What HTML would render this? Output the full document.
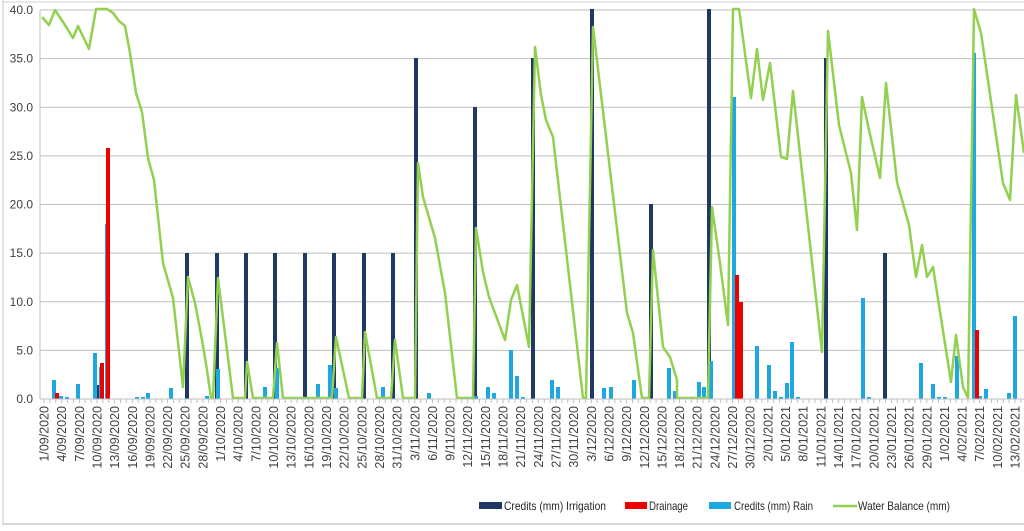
<!DOCTYPE html>
<html><head><meta charset="utf-8"><style>
html,body{margin:0;padding:0;background:#fff;}
svg{display:block;font-family:"Liberation Sans",sans-serif;}
</style></head><body>
<svg id="c" width="1024" height="531" viewBox="0 0 1024 531" xmlns="http://www.w3.org/2000/svg">
<line x1="3" y1="0" x2="3" y2="525" stroke="#c8c8c8"/>
<line x1="3" y1="2" x2="1024" y2="2" stroke="#d0d0d0"/>
<line x1="3" y1="524" x2="1024" y2="524" stroke="#b0b0b0"/>
<g id="grid" stroke="#bfbfbf" stroke-width="1"></g>
<g id="ylab" fill="#404040" font-size="12" text-anchor="end"></g>
<g id="bars"></g>
<polyline fill="none" stroke="#92d050" stroke-width="2.5" stroke-linejoin="round" points="42,17 49,25 55,10 63,22 73,38 78,26 89,49 96,9 107,9 113,13 119,21 125,26 130,53 136,93 142,112 148,158 154,180 163,263 173,298 183,387 188,277 195,303 202,340 207,370 211,398 213,398 218,278 233,398 245,398 247,362 253,398 273,398 277,343 283,398 332,398 336,337 349,398 362,398 365,332 377,398 391,398 395,340 403,398 415,398 418,163 423,197 435,238 445,293 457,398 473,398 476,228 483,272 489,297 505,340 511,300 517,285 529,347 535,47 541,95 546,120 553,137 583,398 586,398 593,27 612,187 627,313 633,333 642,398 649,398 653,250 663,347 670,357 677,380 677,398 708,398 712,207 720,263 728,325 733,9 739,9 751,98 757,49 763,100 770,63 781,157 787,159 793,91 822,352 828,31 839,125 851,173 857,230 862,97 869,130 880,178 886,83 897,182 909,225 916,277 922,245 927,277 933,267 951,382 956,335 963,387 968,398 974,9 981,33 1003,183 1010,200 1016,95 1024,153"/>
<line x1="40" y1="399" x2="1024" y2="399" stroke="#bfbfbf"/>
<g id="ticks" stroke="#bfbfbf"></g>
<g id="xlab" fill="#404040" font-size="12.5"></g>
<g font-size="12" fill="#262626" lengthAdjust="spacingAndGlyphs">
<rect x="479" y="502" width="23" height="7" fill="#1f3864"/><text x="504" y="510" textLength="102" lengthAdjust="spacingAndGlyphs">Credits (mm) Irrigation</text>
<rect x="625" y="502" width="22" height="7" fill="#ee0000"/><text x="649" y="510" textLength="39" lengthAdjust="spacingAndGlyphs">Drainage</text>
<rect x="709" y="502" width="22" height="7" fill="#1ea7e1"/><text x="734" y="510" textLength="79" lengthAdjust="spacingAndGlyphs">Credits (mm) Rain</text>
<line x1="833" y1="506" x2="857" y2="506" stroke="#92d050" stroke-width="2.5"/><text x="858" y="510" textLength="92" lengthAdjust="spacingAndGlyphs">Water Balance (mm)</text>
</g>
</svg>
<script>
var NS="http://www.w3.org/2000/svg";
function el(p,t,a,txt){var e=document.createElementNS(NS,t);for(var k in a)e.setAttribute(k,a[k]);if(txt!=null)e.textContent=txt;document.getElementById(p).appendChild(e);return e;}
for(var i=0;i<=8;i++){var y=10+i*48.625;if(i<8)el("grid","line",{x1:40,y1:y,x2:1024,y2:y});el("ylab","text",{x:33,y:y+4},(40-5*i).toFixed(1));}
el("grid","line",{x1:40,y1:10,x2:40,y2:399});
var d=5.885;
for(var i=0;i<=166;i++){var x=44+i*d;el("ticks","line",{x1:x,y1:399,x2:x,y2:403});}
for(var k=0;k<=55;k++){var dt=new Date(2020,8,1+3*k);var s=dt.getDate()+"/"+("0"+(dt.getMonth()+1)).slice(-2)+"/"+dt.getFullYear();var x=44+3*k*d+4.5;el("xlab","text",{x:x,y:406,transform:"rotate(-90 "+x+" 406)","text-anchor":"end"},s);}
function bar(x,top,c){el("bars","rect",{x:x-2,y:top,width:4,height:399-top,fill:c});}
var dk="#1f3864",rd="#ee0000",bl="#1ea7e1";
[[187,253],[217,253],[246,253],[275,253],[305,253],[334,253],[364,253],[393,253],[416,58],[475,107],[533,58],[592,9],[651,204],[709,9],[826,58],[885,253],[98,385]].forEach(function(b){bar(b[0],b[1],dk);});
[[54,380],[61,396],[67,397],[78,384],[95,353],[101,367],[107,224],[137,397],[143,397],[148,393],[171,388],[207,396],[218,369],[265,387],[277,368],[318,384],[330,365],[336,388],[383,387],[429,393],[476,396],[488,387],[494,393],[511,350],[517,376],[523,397],[552,380],[558,387],[604,388],[611,387],[634,380],[669,368],[675,391],[699,382],[704,387],[711,361],[734,97],[740,322],[757,346],[769,365],[775,391],[781,397],[787,383],[792,342],[798,397],[863,298],[869,397],[921,363],[933,384],[939,397],[945,397],[957,356],[974,53],[980,396],[986,389],[1009,393],[1015,316]].forEach(function(b){bar(b[0],b[1],bl);});
[[57,393],[102,363],[108,148],[737,275],[741,302],[977,330]].forEach(function(b){bar(b[0],b[1],rd);});
</script>
</body></html>
